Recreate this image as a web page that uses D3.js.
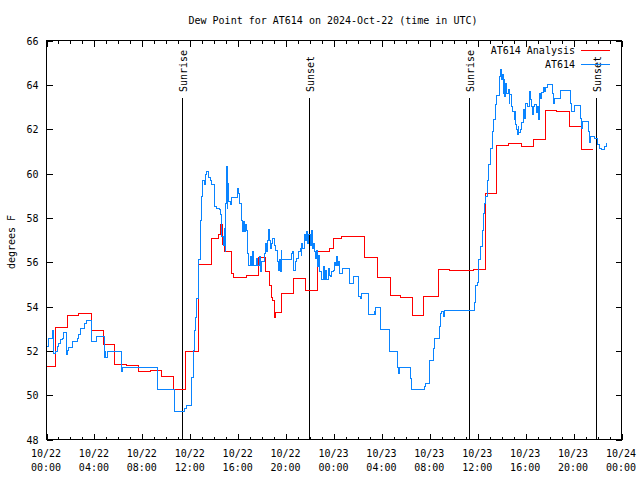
<!DOCTYPE html>
<html><head><meta charset="utf-8">
<script src="https://cdn.jsdelivr.net/npm/d3@7"></script>
<style>
body{margin:0;background:#fff}
svg{display:block}
text{font-family:"DejaVu Sans Mono","Liberation Mono",monospace;font-size:10px;fill:#000}
</style>
</head><body>
<svg id="chart" width="640" height="480"></svg>
<script>
const chartTitle = "Dew Point for AT614 on 2024-Oct-22 (time in UTC)";
const yAxisLabel = "degrees F";
const seriesNames = ["AT614 Analysis", "AT614"];
const yTicks = [48, 50, 52, 54, 56, 58, 60, 62, 64, 66];
const startDate = "2024-10-22T00:00:00Z";
const endDate = "2024-10-24T00:00:00Z";

const sunEventNames = ["Sunrise", "Sunset", "Sunrise", "Sunset"];
const sunEventHours = [11.31, 21.94, 35.28, 45.88];

// Analysis (hours since start, degrees F)
const analysisHours = [0,0.75,1.72,2.69,3.72,4.78,5.67,6.67,7.67,8.67,9.61,10.56,11.64,12.65,13.75,14.36,14.5,14.69,14.86,15.47,15.58,16.67,17.69,18.31,18.61,18.81,18.89,19.03,19.08,19.64,20.61,21.58,22.64,23.61,23.94,24.64,26.58,27.64,28.72,29.58,30.56,31.5,32.69,33.67,35.67,36.64,37.6,38.6,39.64,40.67,41.64,42.56,43.67,44.69,45.6];
const analysisValues = [51.3,53.05,53.6,53.7,52.9,52.3,51.4,51.33,51.05,51.1,50.85,50.25,51.95,55.9,57.07,57.27,57.7,56.8,56.5,55.5,55.3,55.4,56.2,55.57,54.96,54.4,54.25,53.5,53.73,54.6,55.27,54.74,56.5,56.6,57.05,57.15,56.2,55.3,54.5,54.4,53.6,54.47,55.67,55.63,55.67,59.1,61.25,61.37,61.2,61.55,62.83,62.8,62.1,61.07,61.07];

// Observations (hours since start, degrees F)
const obsHours = [0.06,0.19,0.5,0.56,0.75,0.89,1.03,1.17,1.31,1.44,1.67,1.78,1.86,2.14,2.56,2.69,2.83,3.17,3.33,3.73,4.14,4.83,4.89,4.95,5.06,6.25,6.36,9.28,10.67,11.53,11.72,12.14,12.28,12.39,12.47,12.56,12.69,12.83,12.97,13.03,13.17,13.25,13.39,13.53,13.67,13.81,14.03,14.22,14.42,14.5,14.58,14.64,14.78,14.86,14.92,14.97,15.03,15.08,15.14,15.19,15.33,15.42,15.94,16.03,16.08,16.31,16.36,16.44,16.5,16.58,16.67,16.75,16.86,17.0,17.08,17.19,17.28,17.56,17.64,17.75,17.86,17.97,18.19,18.31,18.39,18.47,18.53,18.61,18.69,18.81,18.89,19.0,19.08,19.31,19.36,19.44,19.5,19.58,19.64,20.42,20.53,20.61,20.75,20.89,21.03,21.17,21.25,21.31,21.39,21.5,21.58,21.67,21.78,21.86,22.0,22.08,22.19,22.28,22.36,22.47,22.56,22.64,22.69,22.83,22.97,23.11,23.19,23.31,23.39,23.53,23.61,23.72,23.81,23.94,24.03,24.14,24.22,24.31,24.36,24.44,24.69,25.33,25.61,26.08,26.22,26.31,26.86,27.36,27.42,27.5,27.89,28.67,29.28,29.36,29.5,30.42,30.47,31.53,31.64,31.94,32.0,32.31,32.42,32.83,32.92,32.97,33.17,33.25,35.72,35.83,35.94,36.08,36.22,36.36,36.5,36.58,36.67,36.79,36.92,37.06,37.19,37.33,37.47,37.58,37.78,37.83,37.92,37.97,38.06,38.14,38.19,38.25,38.33,38.42,38.53,38.61,38.69,38.81,38.94,39.03,39.08,39.14,39.22,39.31,39.36,39.44,39.58,39.64,39.78,39.86,39.92,40.0,40.14,40.28,40.33,40.42,40.47,40.56,40.67,40.75,40.89,40.97,41.08,41.17,41.25,41.31,41.53,41.58,41.67,41.81,42.28,42.36,42.42,42.92,43.75,43.86,44.08,44.58,44.64,44.78,45.28,45.33,45.42,45.75,46.03,46.17,46.31,46.58,46.72];
const obsValues = [52.2,52.55,52.9,51.9,51.95,52.2,52.33,52.5,52.55,52.82,51.85,52.0,52.15,52.43,52.55,52.75,53.03,53.23,53.35,52.4,52.66,51.7,51.98,51.7,51.98,51.05,51.24,50.25,49.27,49.39,49.54,50.8,52.0,52.9,53.5,54.36,56.1,57.9,58.96,59.67,59.5,59.94,60.1,59.8,59.7,59.5,58.5,58.43,58.36,58.13,57.83,57.15,56.77,57.53,56.47,58.66,60.3,58.43,59.56,58.74,58.58,58.9,59.34,59.1,58.66,57.9,57.38,57.83,57.38,57.68,57.45,56.4,55.87,56.24,55.87,56.47,55.87,56.17,55.87,56.24,55.57,56.02,56.4,56.85,56.47,57.0,57.48,57.0,56.62,56.85,57.08,56.77,56.54,56.02,55.64,56.1,55.57,56.54,56.1,56.4,56.47,55.64,56.02,56.17,56.47,56.62,56.32,56.85,56.62,57.23,57.0,57.38,56.85,57.23,56.77,57.45,56.62,56.85,56.47,56.17,56.54,55.8,56.32,55.57,55.2,55.8,55.2,55.64,55.2,55.72,55.42,55.34,55.57,55.64,56.0,55.87,56.24,55.87,56.02,55.5,55.72,55.04,55.34,54.44,54.37,54.6,53.64,53.79,53.64,53.94,52.96,51.98,51.27,50.97,51.24,50.77,50.25,50.37,50.52,51.04,51.57,52.1,52.55,53.08,53.68,53.79,53.56,53.8,54.2,54.96,55.1,56.1,56.7,57.45,58.2,58.66,58.95,59.67,60.4,61.15,61.9,62.43,63.1,63.5,64.0,64.39,64.69,64.23,64.46,63.63,64.23,63.48,64.08,63.63,63.78,63.18,63.56,63.03,62.8,62.43,62.8,62.2,61.98,61.75,62.12,61.83,62.0,62.28,62.73,62.88,62.5,63.18,63.03,63.1,63.7,63.33,63.03,62.65,63.03,63.1,62.73,63.03,62.43,63.63,63.4,63.66,63.86,63.7,63.86,64.0,63.63,63.18,63.4,63.75,63.18,62.8,63.06,62.5,62.05,62.35,61.9,61.4,61.67,61.6,61.3,61.15,61.07,61.2,61.37];

const colors = {analysis: "#ff0000", obs: "#0a84ff"};

const svg = d3.select("#chart");
const L = 46.5, R = 621.5, T = 40.5, B = 439.5;
const t0 = new Date(startDate), t1 = new Date(endDate);
const hourToDate = h => new Date(t0.getTime() + h * 3600000);

const x = d3.scaleUtc().domain([t0, t1]).range([L, R]);
const y = d3.scaleLinear().domain([48, 66]).range([B, T]);

// Title
svg.append("text").attr("x", 333).attr("y", 24).attr("text-anchor", "middle").text(chartTitle);

// Y label
svg.append("text").attr("transform", "translate(15,242) rotate(-90)").attr("text-anchor", "middle").text(yAxisLabel);

const g = svg.append("g");

// Minor ticks (bottom + top)
const minorTicks = x.ticks(d3.utcHour.every(1));
g.append("g").attr("transform", `translate(0,${B})`)
  .call(d3.axisBottom(x).tickValues(minorTicks).tickSize(-3).tickFormat(""))
  .call(a => a.select(".domain").remove());
g.append("g").attr("transform", `translate(0,${T})`)
  .call(d3.axisTop(x).tickValues(minorTicks).tickSize(-3).tickFormat(""))
  .call(a => a.select(".domain").remove());

// Major x ticks
const xMajor = x.ticks(d3.utcHour.every(4));
const fmtDate = d3.utcFormat("%m/%d"), fmtTime = d3.utcFormat("%H:%M");
const xAx = g.append("g").attr("transform", `translate(0,${B})`)
  .call(d3.axisBottom(x).tickValues(xMajor).tickSize(-6).tickFormat(fmtDate));
xAx.select(".domain").remove();
xAx.selectAll(".tick text").each(function(d) {
  const t = d3.select(this);
  t.text(null).attr("y", 0).attr("dy", 0);
  t.append("tspan").attr("x", -1).attr("y", 17.5).text(fmtDate(d));
  t.append("tspan").attr("x", -1).attr("y", 31.5).text(fmtTime(d));
});
g.append("g").attr("transform", `translate(0,${T})`)
  .call(d3.axisTop(x).tickValues(xMajor).tickSize(-6).tickFormat(""))
  .call(a => a.select(".domain").remove());

// Y axis
const yAx = g.append("g").attr("transform", `translate(${L},0)`)
  .call(d3.axisLeft(y).tickValues(yTicks).tickSize(-6).tickPadding(8));
yAx.select(".domain").remove();
yAx.selectAll(".tick text").attr("dy", "0.35em");
g.append("g").attr("transform", `translate(${R},0)`)
  .call(d3.axisRight(y).tickValues(yTicks).tickSize(-6).tickFormat(""))
  .call(a => a.select(".domain").remove());

g.selectAll(".tick line").attr("stroke", "#000").attr("shape-rendering", "crispEdges");
g.selectAll(".tick text").attr("font-family", null).attr("font-size", null);
g.selectAll("g").attr("font-family", null).attr("font-size", null);

// Frame
svg.append("rect").attr("x", L).attr("y", T).attr("width", R - L).attr("height", B - T)
  .attr("fill", "none").attr("stroke", "#000").attr("shape-rendering", "crispEdges");

// Sunrise / sunset
sunEventHours.forEach((h, i) => {
  const xp = Math.round(x(hourToDate(h))) + 0.5;
  svg.append("line").attr("x1", xp).attr("x2", xp).attr("y1", 98).attr("y2", B)
    .attr("stroke", "#000").attr("shape-rendering", "crispEdges");
  svg.append("text").attr("transform", `translate(${xp + 4},92) rotate(-90)`)
    .attr("text-anchor", "start").text(sunEventNames[i]);
});

// Series
const line = d3.line().curve(d3.curveStepAfter).x(d => x(hourToDate(d[0]))).y(d => y(d[1]));
const analysisData = analysisHours.map((h, i) => [h, analysisValues[i]]);
const obsData = obsHours.map((h, i) => [h, obsValues[i]]);

svg.append("path").datum(analysisData).attr("d", line)
  .attr("fill", "none").attr("stroke", colors.analysis).attr("stroke-width", 1)
  .attr("shape-rendering", "crispEdges");
svg.append("path").datum(obsData).attr("d", line)
  .attr("fill", "none").attr("stroke", colors.obs).attr("stroke-width", 1)
  .attr("shape-rendering", "crispEdges");

// Legend
const legendColors = [colors.analysis, colors.obs];
seriesNames.forEach((name, i) => {
  const ly = 50.5 + i * 14;
  svg.append("text").attr("x", 575).attr("y", ly + 3.5).attr("text-anchor", "end").text(name);
  svg.append("line").attr("x1", 581).attr("x2", 610).attr("y1", ly).attr("y2", ly)
    .attr("stroke", legendColors[i]).attr("stroke-width", 1).attr("shape-rendering", "crispEdges");
});
</script>
</body></html>
